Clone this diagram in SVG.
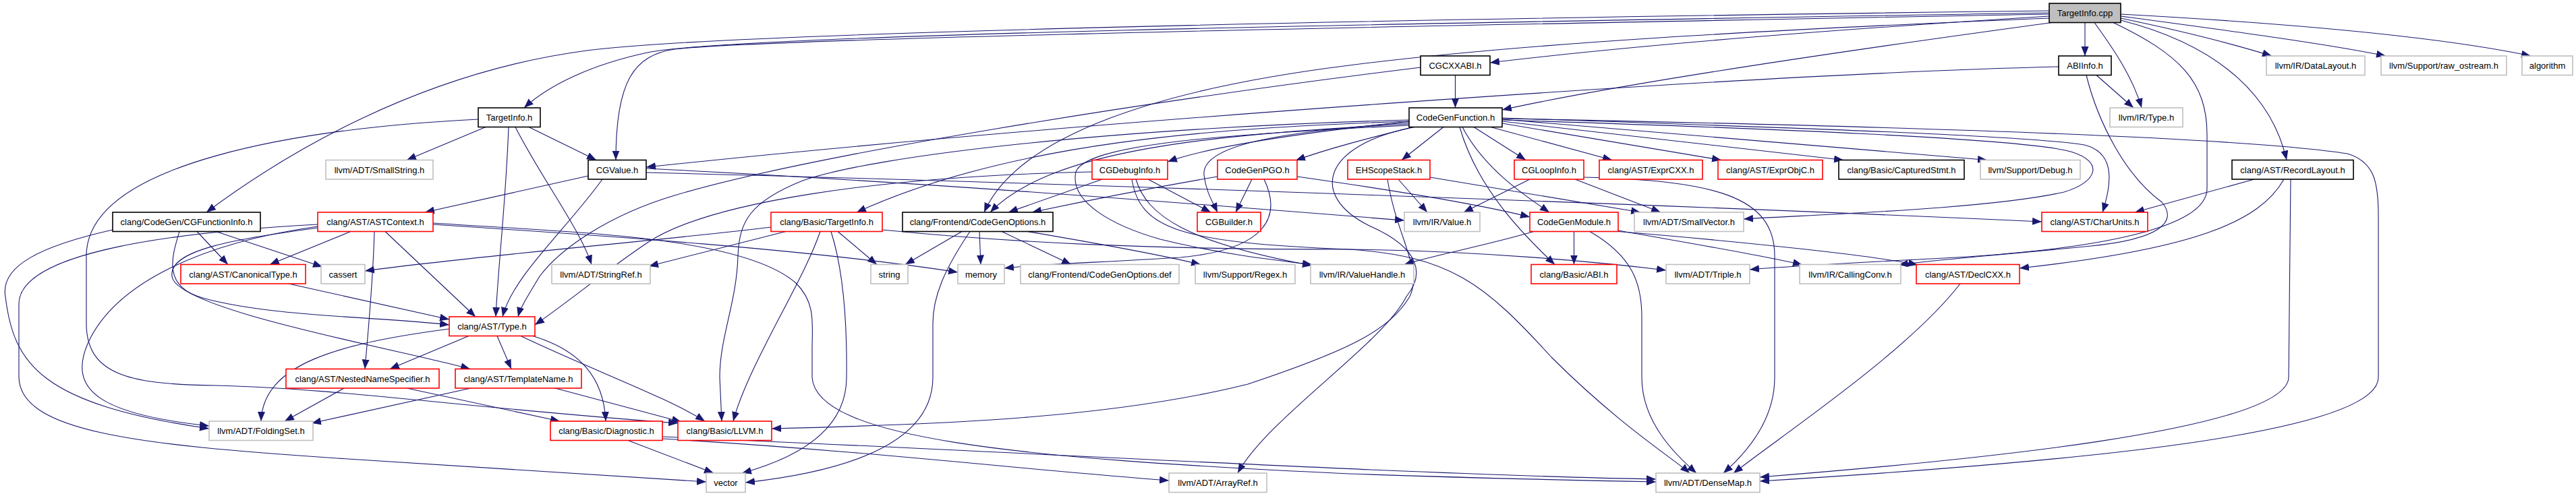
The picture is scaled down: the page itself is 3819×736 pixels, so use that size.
<svg xmlns="http://www.w3.org/2000/svg" width="3819" height="736" viewBox="0 0 3819 736">
<style>
.node rect{fill:#fff;stroke-width:1.6}
.b rect{stroke:#000}
.r rect{stroke:#ff0000}
.g rect{stroke:#bfbfbf}
.root rect{fill:#bfbfbf;stroke:#000}
.node text{font-family:"Liberation Sans",Arial,sans-serif;font-size:13px;text-anchor:middle;fill:#000}
#edges path{fill:none;stroke:#191970;stroke-width:1.1;marker-end:url(#a)}
</style>
<defs>
<marker id="a" markerUnits="userSpaceOnUse" markerWidth="15" markerHeight="12" refX="14" refY="5.5" orient="auto"><path d="M0,0 L14,5.5 L0,11 z" fill="#191970" stroke="none"/></marker>
</defs>
<rect width="3819" height="736" fill="#fff"/>
<g id="edges">
<path d="M3038,19 C2400,30 1100,48 960,78 C880,95 815,125 777,160"/>
<path d="M3038,21 C2400,33 1150,55 1000,73 C940,82 913,120 913,237.5"/>
<path d="M3038,16 C2300,25 1100,45 870,75 C620,108 420,230 306,315"/>
<path d="M3038,24 C2700,45 2400,70 2209,93"/>
<path d="M3042,33.5 C2700,80 2400,125 2227,163"/>
<path d="M3038,27 C2600,45 2250,65 2000,97 C1720,132 1510,200 1459,315"/>
<path d="M3091,33.5 L3091,83"/>
<path d="M3105,33.5 C3135,75 3162,115 3175,160"/>
<path d="M3133,33.5 C3230,80 3272,120 3272,200 L3272,280 C3272,340 3100,370 2900,382 C2750,390 2650,395 2594,400"/>
<path d="M3144,30 C3300,70 3370,150 3390,237.5"/>
<path d="M3144,27 C3230,45 3310,65 3368,83"/>
<path d="M3144,24 C3300,45 3450,65 3537,83"/>
<path d="M3144,21 C3400,35 3620,55 3752,83"/>
<path d="M720,188.5 L603,237.5"/>
<path d="M784,188.5 L884,237.5"/>
<path d="M754,188.5 C750,300 738,400 735,470"/>
<path d="M764,188.5 C800,260 860,340 877,392.5"/>
<path d="M709,177 C450,190 128,240 128,380 L128,480 C128,560 200,570 320,572 C500,576 700,606 1005,628"/>
<path d="M2157.5,111.5 L2157.5,160"/>
<path d="M2106,100 C1700,150 1200,230 1000,290 C900,320 830,370 800,410 C785,435 772,455 768,470"/>
<path d="M3108,111.5 L3163,160"/>
<path d="M3052,99 C2600,110 1600,180 958,248"/>
<path d="M3093,111.5 C3110,180 3150,260 3205,300 C3230,330 3200,355 3100,365 C2950,380 2870,385 2815,393"/>
<path d="M2089,180 C1950,195 1800,215 1731,240"/>
<path d="M2095,188.5 C2030,205 1970,220 1921,238"/>
<path d="M2089,182 C1900,195 1780,215 1785,260 C1788,285 1798,300 1805,315"/>
<path d="M2089,184 C1800,200 1560,220 1468,315"/>
<path d="M2089,180 C1800,190 1500,210 1270,315"/>
<path d="M2089,178 C1650,190 1300,230 1190,268 C1110,300 1096,330 1094,380 C1092,450 1067,500 1067,560 L1070,625"/>
<path d="M2140,188.5 L2078,237.5"/>
<path d="M2185,188.5 L2262,237.5"/>
<path d="M2168,188.5 C2200,250 2260,290 2297,315"/>
<path d="M2210,188.5 L2390,237.5"/>
<path d="M2227,183 L2552,237.5"/>
<path d="M2227,180 L2733,237.5"/>
<path d="M2227,177 L2946,237.5"/>
<path d="M2227,175 C2600,188 3000,200 3090,215 C3130,225 3135,260 3117,315"/>
<path d="M2227,178 C2600,190 3000,205 3070,225 C3120,240 3110,270 3060,285 C2950,310 2700,318 2585,325"/>
<path d="M2227,176 C2700,185 3300,200 3480,228 C3520,240 3526,270 3526,320 L3526,560 C3526,650 3000,690 2609,714"/>
<path d="M2164,188.5 C2190,280 2260,350 2305,392.5"/>
<path d="M2089,186 C1800,200 1610,215 1595,255 C1585,300 1650,335 1720,355 C1800,375 1880,385 1945,392.5"/>
<path d="M2097,188.5 C1960,215 1940,290 2030,335 C2110,370 2110,410 2085,440 C2050,510 1880,620 1835,702"/>
<path d="M872,261 L630,315"/>
<path d="M893,266 C840,340 760,410 745,470"/>
<path d="M958,250 C1400,272 1800,305 2082,327"/>
<path d="M958,256 C1600,272 2500,305 3027,329"/>
<path d="M292,343.5 L338,392.5"/>
<path d="M320,343.5 L478,396"/>
<path d="M266,343.5 C255,380 240,425 300,442 C400,470 560,470 666,482"/>
<path d="M167,341 C60,365 0,395 8,440 C20,540 60,600 310,636"/>
<path d="M520,343.5 L400,392.5"/>
<path d="M555,343.5 C553,420 545,500 541,547.5"/>
<path d="M571,343.5 L705,470"/>
<path d="M471,338 C350,355 250,370 255,410 C260,460 600,520 697,547.5"/>
<path d="M471,336 C300,360 170,420 130,510 C100,580 150,615 310,632"/>
<path d="M471,333 C250,345 30,375 28,450 L28,560 C30,640 200,660 500,680 C800,700 950,710 1047,715"/>
<path d="M642,331 C850,345 1100,350 1180,420 C1210,450 1204,480 1204,520 L1204,560 C1210,650 1500,680 2000,703 C2200,710 2350,713 2455,715"/>
<path d="M642,333 C900,350 1200,370 1420,404"/>
<path d="M428,421 L666,474"/>
<path d="M666,488 C500,510 390,540 387,625"/>
<path d="M695,498.5 L578,547.5"/>
<path d="M737,498.5 L758,547.5"/>
<path d="M790,498.5 C860,520 895,560 898,625"/>
<path d="M772,498.5 C880,550 990,590 1045,625"/>
<path d="M510,576 L422,625"/>
<path d="M603,576 L830,625"/>
<path d="M698,576 L462,628"/>
<path d="M823,576 L1010,626"/>
<path d="M931,653.5 L1058,702"/>
<path d="M982,651 C1300,670 1550,700 1733,713"/>
<path d="M982,648 C1500,670 2100,705 2455,711"/>
<path d="M1216,343.5 C1190,420 1110,540 1087,625"/>
<path d="M1232,343.5 C1250,400 1256,480 1255,560 C1255,640 1180,680 1100,702"/>
<path d="M1242,343.5 L1300,392.5"/>
<path d="M1165,343.5 L962,395"/>
<path d="M1143,337 C1000,355 700,380 541,402"/>
<path d="M1308,341 C1500,360 1700,370 2000,370 C2200,372 2380,390 2470,401"/>
<path d="M1426,343.5 L1342,392.5"/>
<path d="M1452,343.5 L1454,392.5"/>
<path d="M1485,343.5 L1588,392.5"/>
<path d="M1523,343.5 C1620,360 1720,378 1780,392.5"/>
<path d="M1438,343.5 C1400,400 1383,440 1383,480 L1383,560 C1383,660 1250,700 1105,716"/>
<path d="M1702,266 L1795,315"/>
<path d="M1634,266 L1495,315"/>
<path d="M1619,255 C1300,262 1050,300 960,360 C900,400 840,450 793,482"/>
<path d="M1684,266 C1700,320 1760,360 1945,394"/>
<path d="M1678,266 C1690,340 1750,360 2000,370 C2150,380 2200,420 2300,530 C2400,630 2480,680 2505,702"/>
<path d="M1856,266 L1832,315"/>
<path d="M1805,262 C1700,280 1600,300 1530,315"/>
<path d="M1874,266 C1900,320 1880,370 1750,382 C1620,390 1540,392 1489,398"/>
<path d="M1923,262 C2050,280 2180,300 2268,322"/>
<path d="M2073,266 L2116,315"/>
<path d="M2120,263 L2432,315"/>
<path d="M2057,266 C2070,350 2110,400 2090,440 C2060,490 2000,520 1850,570 C1650,620 1400,630 1144,636"/>
<path d="M2268,266 L2170,315"/>
<path d="M2335,266 L2462,315"/>
<path d="M2348,263 C2540,268 2631,290 2631,380 L2631,560 C2631,630 2580,680 2555,702"/>
<path d="M2274,343.5 C2200,365 2120,380 2082,392.5"/>
<path d="M2333.5,343.5 L2333.5,392.5"/>
<path d="M2357,343.5 C2420,380 2434,420 2434,470 L2434,560 C2434,630 2490,680 2515,702"/>
<path d="M2399,342 C2500,360 2620,380 2672,393"/>
<path d="M2399,343.5 C2600,360 2780,380 2843,393"/>
<path d="M3342,266 L3165,315"/>
<path d="M3386,266 C3350,330 3250,370 2994,398"/>
<path d="M3396,266 L3393,560 C3390,640 2900,685 2609,708"/>
<path d="M2906,421 C2830,520 2650,640 2570,702"/>
</g>
<g id="n_TargetInfo_cpp" class="node root"><rect x="3038" y="5" width="106" height="28.5"/><text x="3091" y="24">TargetInfo.cpp</text></g>
<g id="n_CGCXXABI" class="node b"><rect x="2106" y="83" width="103" height="28.5"/><text x="2157.5" y="102">CGCXXABI.h</text></g>
<g id="n_ABIInfo" class="node b"><rect x="3052" y="83" width="78" height="28.5"/><text x="3091" y="102">ABIInfo.h</text></g>
<g id="n_DataLayout" class="node g"><rect x="3360" y="83" width="146" height="28.5"/><text x="3433" y="102">llvm/IR/DataLayout.h</text></g>
<g id="n_raw_ostream" class="node g"><rect x="3530" y="83" width="186" height="28.5"/><text x="3623" y="102">llvm/Support/raw_ostream.h</text></g>
<g id="n_algorithm" class="node g"><rect x="3739" y="83" width="75" height="28.5"/><text x="3776.5" y="102">algorithm</text></g>
<g id="n_TargetInfo_h" class="node b"><rect x="709" y="160" width="92" height="28.5"/><text x="755" y="179">TargetInfo.h</text></g>
<g id="n_CodeGenFunction" class="node b"><rect x="2089" y="160" width="138" height="28.5"/><text x="2158" y="179">CodeGenFunction.h</text></g>
<g id="n_IRType" class="node g"><rect x="3128" y="160" width="108" height="28.5"/><text x="3182" y="179">llvm/IR/Type.h</text></g>
<g id="n_SmallString" class="node g"><rect x="483" y="237.5" width="159" height="28.5"/><text x="562.5" y="256.5">llvm/ADT/SmallString.h</text></g>
<g id="n_CGValue" class="node b"><rect x="872" y="237.5" width="86" height="28.5"/><text x="915" y="256.5">CGValue.h</text></g>
<g id="n_CGDebugInfo" class="node r"><rect x="1619" y="237.5" width="112" height="28.5"/><text x="1675" y="256.5">CGDebugInfo.h</text></g>
<g id="n_CodeGenPGO" class="node r"><rect x="1805" y="237.5" width="118" height="28.5"/><text x="1864" y="256.5">CodeGenPGO.h</text></g>
<g id="n_EHScopeStack" class="node r"><rect x="1998" y="237.5" width="122" height="28.5"/><text x="2059" y="256.5">EHScopeStack.h</text></g>
<g id="n_CGLoopInfo" class="node r"><rect x="2245" y="237.5" width="103" height="28.5"/><text x="2296.5" y="256.5">CGLoopInfo.h</text></g>
<g id="n_ExprCXX" class="node r"><rect x="2371" y="237.5" width="153" height="28.5"/><text x="2447.5" y="256.5">clang/AST/ExprCXX.h</text></g>
<g id="n_ExprObjC" class="node r"><rect x="2547" y="237.5" width="155" height="28.5"/><text x="2624.5" y="256.5">clang/AST/ExprObjC.h</text></g>
<g id="n_CapturedStmt" class="node b"><rect x="2726" y="237.5" width="186" height="28.5"/><text x="2819" y="256.5">clang/Basic/CapturedStmt.h</text></g>
<g id="n_Debug" class="node g"><rect x="2936" y="237.5" width="148" height="28.5"/><text x="3010" y="256.5">llvm/Support/Debug.h</text></g>
<g id="n_RecordLayout" class="node b"><rect x="3309" y="237.5" width="180" height="28.5"/><text x="3399" y="256.5">clang/AST/RecordLayout.h</text></g>
<g id="n_CGFunctionInfo" class="node b"><rect x="167" y="315" width="219" height="28.5"/><text x="276.5" y="334">clang/CodeGen/CGFunctionInfo.h</text></g>
<g id="n_ASTContext" class="node r"><rect x="471" y="315" width="171" height="28.5"/><text x="556.5" y="334">clang/AST/ASTContext.h</text></g>
<g id="n_BasicTargetInfo" class="node r"><rect x="1143" y="315" width="165" height="28.5"/><text x="1225.5" y="334">clang/Basic/TargetInfo.h</text></g>
<g id="n_CodeGenOptions" class="node b"><rect x="1338" y="315" width="223" height="28.5"/><text x="1449.5" y="334">clang/Frontend/CodeGenOptions.h</text></g>
<g id="n_CGBuilder" class="node r"><rect x="1775" y="315" width="94" height="28.5"/><text x="1822" y="334">CGBuilder.h</text></g>
<g id="n_IRValue" class="node g"><rect x="2082" y="315" width="112" height="28.5"/><text x="2138" y="334">llvm/IR/Value.h</text></g>
<g id="n_CodeGenModule" class="node r"><rect x="2268" y="315" width="131" height="28.5"/><text x="2333.5" y="334">CodeGenModule.h</text></g>
<g id="n_SmallVector" class="node g"><rect x="2423" y="315" width="162" height="28.5"/><text x="2504" y="334">llvm/ADT/SmallVector.h</text></g>
<g id="n_CharUnits" class="node r"><rect x="3027" y="315" width="157" height="28.5"/><text x="3105.5" y="334">clang/AST/CharUnits.h</text></g>
<g id="n_CanonicalType" class="node r"><rect x="268" y="392.5" width="185" height="28.5"/><text x="360.5" y="411.5">clang/AST/CanonicalType.h</text></g>
<g id="n_cassert" class="node g"><rect x="476" y="392.5" width="65" height="28.5"/><text x="508.5" y="411.5">cassert</text></g>
<g id="n_StringRef" class="node g"><rect x="818" y="392.5" width="146" height="28.5"/><text x="891" y="411.5">llvm/ADT/StringRef.h</text></g>
<g id="n_string" class="node g"><rect x="1291" y="392.5" width="55" height="28.5"/><text x="1318.5" y="411.5">string</text></g>
<g id="n_memory" class="node g"><rect x="1420" y="392.5" width="69" height="28.5"/><text x="1454.5" y="411.5">memory</text></g>
<g id="n_CodeGenOptions_def" class="node g"><rect x="1513" y="392.5" width="235" height="28.5"/><text x="1630.5" y="411.5">clang/Frontend/CodeGenOptions.def</text></g>
<g id="n_Regex" class="node g"><rect x="1772" y="392.5" width="148" height="28.5"/><text x="1846" y="411.5">llvm/Support/Regex.h</text></g>
<g id="n_ValueHandle" class="node g"><rect x="1943" y="392.5" width="153" height="28.5"/><text x="2019.5" y="411.5">llvm/IR/ValueHandle.h</text></g>
<g id="n_ABI" class="node r"><rect x="2270" y="392.5" width="127" height="28.5"/><text x="2333.5" y="411.5">clang/Basic/ABI.h</text></g>
<g id="n_Triple" class="node g"><rect x="2470" y="392.5" width="124" height="28.5"/><text x="2532" y="411.5">llvm/ADT/Triple.h</text></g>
<g id="n_CallingConv" class="node g"><rect x="2668" y="392.5" width="150" height="28.5"/><text x="2743" y="411.5">llvm/IR/CallingConv.h</text></g>
<g id="n_DeclCXX" class="node r"><rect x="2841" y="392.5" width="153" height="28.5"/><text x="2917.5" y="411.5">clang/AST/DeclCXX.h</text></g>
<g id="n_ASTType" class="node r"><rect x="666" y="470" width="127" height="28.5"/><text x="729.5" y="489">clang/AST/Type.h</text></g>
<g id="n_NestedNameSpecifier" class="node r"><rect x="424" y="547.5" width="227" height="28.5"/><text x="537.5" y="566.5">clang/AST/NestedNameSpecifier.h</text></g>
<g id="n_TemplateName" class="node r"><rect x="675" y="547.5" width="187" height="28.5"/><text x="768.5" y="566.5">clang/AST/TemplateName.h</text></g>
<g id="n_FoldingSet" class="node g"><rect x="310" y="625" width="154" height="28.5"/><text x="387" y="644">llvm/ADT/FoldingSet.h</text></g>
<g id="n_Diagnostic" class="node r"><rect x="816" y="625" width="166" height="28.5"/><text x="899" y="644">clang/Basic/Diagnostic.h</text></g>
<g id="n_LLVM" class="node r"><rect x="1005" y="625" width="139" height="28.5"/><text x="1074.5" y="644">clang/Basic/LLVM.h</text></g>
<g id="n_vector" class="node g"><rect x="1047" y="702" width="58" height="28.5"/><text x="1076" y="721">vector</text></g>
<g id="n_ArrayRef" class="node g"><rect x="1733" y="702" width="145" height="28.5"/><text x="1805.5" y="721">llvm/ADT/ArrayRef.h</text></g>
<g id="n_DenseMap" class="node g"><rect x="2455" y="702" width="154" height="28.5"/><text x="2532" y="721">llvm/ADT/DenseMap.h</text></g>
</svg>
